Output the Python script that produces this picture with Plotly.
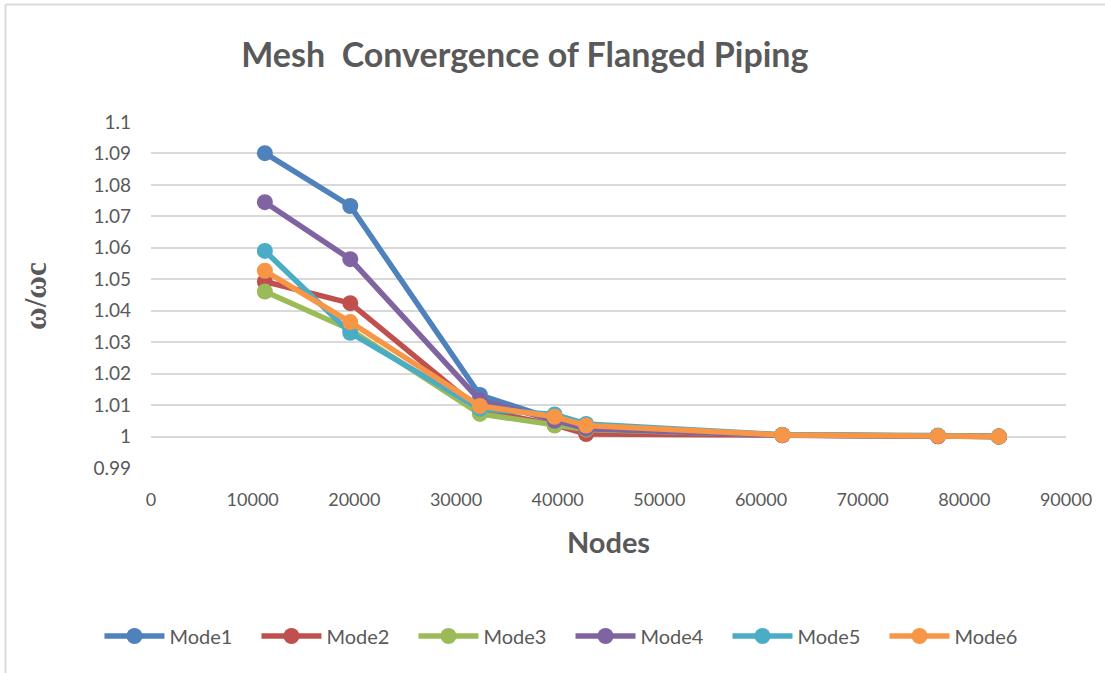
import plotly.graph_objs as go

# data
nodes = [11200, 19600, 32350, 39700, 42800, 62100, 77400, 83400]
mode1 = [1.0901, 1.0733, 1.0132, 1.0055, 1.0030, 1.0005, 1.0002, 1.0000]
mode2 = [1.0493, 1.0424, 1.0085, 1.0037, 1.0008, 1.0004, 1.0001, 1.0000]
mode3 = [1.0461, 1.0340, 1.0072, 1.0035, 1.0022, 1.0005, 1.0002, 1.0000]
mode4 = [1.0745, 1.0564, 1.0115, 1.0050, 1.0025, 1.0004, 1.0001, 1.0000]
mode5 = [1.0590, 1.0330, 1.0088, 1.0070, 1.0040, 1.0006, 1.0003, 1.0000]
mode6 = [1.0527, 1.0364, 1.0097, 1.0063, 1.0035, 1.0005, 1.0002, 1.0000]

series = [
    ("Mode1", mode1, "#4F81BD"),
    ("Mode2", mode2, "#C0504D"),
    ("Mode3", mode3, "#9BBB59"),
    ("Mode4", mode4, "#8064A2"),
    ("Mode5", mode5, "#4BACC6"),
    ("Mode6", mode6, "#F79646"),
]

y_ticks = [0.99, 1, 1.01, 1.02, 1.03, 1.04, 1.05, 1.06, 1.07, 1.08, 1.09, 1.1]
y_labels = ["0.99", "1", "1.01", "1.02", "1.03", "1.04", "1.05", "1.06",
            "1.07", "1.08", "1.09", "1.1"]
x_ticks = list(range(0, 90001, 10000))

grey = "#595959"
font = "Lato, 'Open Sans', sans-serif"

fig = go.Figure()
for i, (name, vals, color) in enumerate(series):
    fig.add_trace(go.Scatter(
        x=nodes, y=vals, name=name, mode="lines+markers",
        line=dict(color=color, width=5.5),
        marker=dict(color=color, size=16),
        # split the legend in two halves so the row does not wrap
        legend="legend" if i < 3 else "legend2",
    ))

# outer chart frame (left and top edges only are visible)
frame = dict(color="#D9D9D9", width=2)
fig.add_shape(type="line", xref="paper", yref="paper",
              x0=-0.159, x1=-0.159, y0=1.3396, y1=-0.6, line=frame, layer="below")
fig.add_shape(type="line", xref="paper", yref="paper",
              x0=-0.159, x1=1.05, y0=1.3396, y1=1.3396, line=frame, layer="below")

# y axis title as an annotation (axis title gets misplaced with two legends)
fig.add_annotation(
    text="<b>ω/ωc</b>", textangle=-90, showarrow=False,
    xref="paper", yref="paper", x=-0.1268, y=0.497,
    xanchor="center", yanchor="middle",
    font=dict(size=31, color=grey,
              family="'Liberation Serif', 'DejaVu Serif', serif"),
)

legend_style = dict(
    orientation="h", xref="container", xanchor="left",
    y=-0.4855, yanchor="middle",
    font=dict(size=20, color=grey), itemwidth=60, entrywidth=82,
)

fig.update_layout(
    width=1105, height=673,
    paper_bgcolor="white", plot_bgcolor="white",
    margin=dict(l=151, r=39, t=122, b=205, autoexpand=False),
    font=dict(family=font, color=grey, size=18),
    title=dict(
        text="<b>Mesh  Convergence of Flanged Piping</b>",
        x=0.475, xanchor="center", y=0.918, yanchor="middle",
        font=dict(size=34, color=grey, family=font),
    ),
    xaxis=dict(
        range=[0, 90000], tickvals=x_ticks, ticktext=[str(v) for v in x_ticks],
        showgrid=False, zeroline=False, showline=False,
        ticklabelstandoff=19, automargin=False,
        title=dict(text="<b>Nodes</b>", font=dict(size=29, color=grey), standoff=23),
    ),
    yaxis=dict(
        range=[0.99, 1.1], tickvals=y_ticks, ticktext=y_labels,
        tickfont=dict(size=19),
        showgrid=True, gridcolor="#D9D9D9", gridwidth=1.5,
        zeroline=False, showline=False, ticklabelstandoff=19, automargin=False,
    ),
    legend=dict(x=0.090, **legend_style),
    legend2=dict(x=0.5163, **legend_style),
)

fig.write_html("out.html", config=dict(displayModeBar=False),
               post_script="document.body.style.margin='0';")
